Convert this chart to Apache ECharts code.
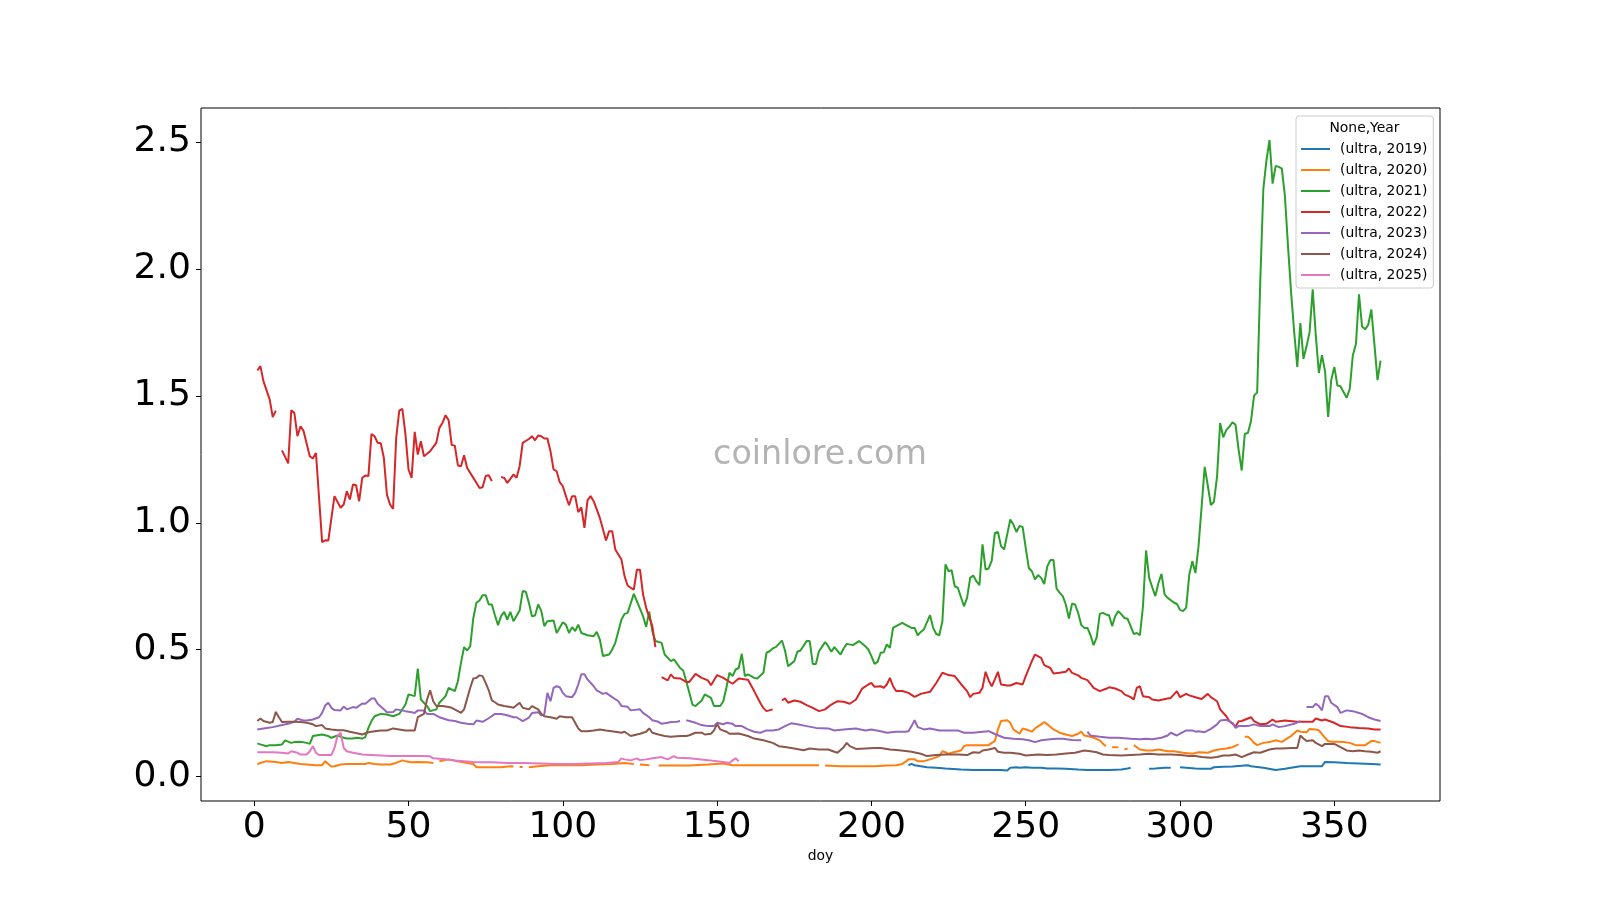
<!DOCTYPE html>
<html>
<head>
<meta charset="utf-8">
<script src="https://cdn.jsdelivr.net/npm/echarts@6/dist/echarts.min.js"></script>
<style>
html,body{margin:0;padding:0;background:#fff;}
#chart{width:1600px;height:900px;}
</style>
</head>
<body>
<div id="chart"></div>
<script>
// ---- data: [day of year, value]; null marks a gap in the line ----
const seriesNames = ['(ultra, 2019)','(ultra, 2020)','(ultra, 2021)','(ultra, 2022)','(ultra, 2023)','(ultra, 2024)','(ultra, 2025)'];
const xTicks = [0,50,100,150,200,250,300,350];
const yTicks = [0.0,0.5,1.0,1.5,2.0,2.5];

const ultra2019 = [[212,0.045],[213,0.050],[214,0.045],[216,0.041],[218,0.037],[221,0.035],[224,0.032],[229,0.028],[233,0.026],[238,0.026],[242,0.026],[244,0.024],[245,0.035],[247,0.037],[248,0.035],[250,0.037],[252,0.035],[255,0.035],[257,0.032],[260,0.032],[263,0.031],[267,0.028],[270,0.026],[273,0.026],[277,0.026],[281,0.028],[283,0.032],[284,0.035],null,[290,0.031],[292,0.032],[295,0.035],[297,0.035],null,[300,0.037],[302,0.035],[305,0.032],[307,0.031],[310,0.031],[311,0.037],[314,0.039],[317,0.040],[320,0.043],[322,0.045],[323,0.041],[327,0.035],[331,0.026],[334,0.031],[339,0.041],[343,0.041],[346,0.041],[347,0.058],[350,0.057],[354,0.054],[358,0.052],[362,0.050],[365,0.048]];

const ultra2020 = [[1,0.048],[2,0.054],[4,0.061],[7,0.058],[9,0.054],[11,0.058],[13,0.054],[15,0.050],[17,0.048],[20,0.045],[22,0.045],[23,0.061],[24,0.050],[25,0.040],[26,0.041],[28,0.048],[30,0.050],[33,0.050],[36,0.050],[37,0.054],[39,0.050],[41,0.048],[44,0.048],[46,0.054],[48,0.064],[49,0.061],[51,0.057],[53,0.058],[56,0.057],[58,0.054],null,[60,0.061],[63,0.068],[66,0.061],[69,0.054],[71,0.050],[72,0.037],[74,0.037],[77,0.037],[80,0.037],[83,0.041],[84,0.040],null,[86,0.038],[87,0.038],null,[89,0.037],[92,0.041],[96,0.045],[100,0.045],[106,0.045],[111,0.048],[116,0.050],[120,0.054],[123,0.050],null,[125,0.048],[128,0.045],null,[131,0.044],[136,0.044],[141,0.044],[147,0.048],[152,0.052],[155,0.045],[158,0.045],[163,0.045],[168,0.045],[174,0.045],[179,0.045],[183,0.045],null,[185,0.044],[190,0.041],[195,0.041],[201,0.041],[205,0.044],[208,0.045],[210,0.050],[211,0.058],[212,0.068],[214,0.068],[215,0.061],[217,0.061],[219,0.068],[220,0.072],[222,0.081],[223,0.100],[224,0.096],[225,0.090],[226,0.094],[229,0.103],[230,0.120],[231,0.124],[233,0.124],[235,0.124],[238,0.124],[239,0.133],[240,0.140],[241,0.186],[242,0.219],[244,0.222],[245,0.212],[246,0.186],[248,0.169],[249,0.190],[251,0.182],[252,0.177],[253,0.190],[255,0.206],[256,0.215],[257,0.206],[259,0.186],[261,0.173],[263,0.166],[265,0.160],[267,0.169],[268,0.177],[269,0.162],[271,0.157],[272,0.153],[274,0.143],[275,0.130],[276,0.120],null,[278,0.116],[280,0.116],null,[282,0.107],[283,0.111],null,[285,0.124],[286,0.116],[287,0.107],[289,0.103],[291,0.103],[293,0.107],[296,0.100],[298,0.100],[301,0.094],[304,0.090],[306,0.096],[309,0.094],[311,0.103],[313,0.108],[315,0.111],[317,0.116],[319,0.127],null,[321,0.157],[322,0.157],[323,0.147],[324,0.133],[325,0.124],[327,0.133],[329,0.136],[331,0.143],[333,0.137],[335,0.153],[336,0.160],[338,0.182],[339,0.177],[341,0.175],[342,0.188],[344,0.186],[345,0.182],[347,0.153],[348,0.140],[349,0.137],[351,0.137],[353,0.136],[355,0.133],[357,0.124],[358,0.124],[360,0.124],[362,0.140],[363,0.140],[365,0.133]];

const ultra2021 = [[1,0.131],[2,0.127],[4,0.120],[5,0.124],[7,0.124],[9,0.127],[10,0.143],[12,0.133],[13,0.136],[15,0.137],[17,0.133],[18,0.129],[19,0.160],[20,0.162],[22,0.166],[24,0.160],[25,0.153],[27,0.162],[29,0.153],[30,0.150],[32,0.150],[33,0.153],[35,0.150],[36,0.156],[37,0.192],[38,0.219],[39,0.238],[41,0.247],[43,0.245],[45,0.238],[47,0.247],[49,0.284],[50,0.324],[52,0.317],[53,0.426],[54,0.304],[56,0.278],[57,0.258],[59,0.265],[60,0.291],[62,0.317],[63,0.350],[65,0.337],[66,0.376],[67,0.448],[68,0.510],[69,0.497],[70,0.514],[71,0.625],[72,0.685],[73,0.694],[74,0.715],[75,0.715],[76,0.678],[77,0.678],[78,0.636],[79,0.597],[80,0.632],[81,0.649],[82,0.619],[83,0.649],[84,0.612],[86,0.654],[87,0.731],[88,0.728],[89,0.685],[90,0.632],[91,0.635],[92,0.678],[93,0.654],[94,0.593],[95,0.612],[97,0.615],[98,0.566],[100,0.608],[101,0.599],[102,0.566],[103,0.589],[104,0.573],[105,0.599],[106,0.566],[108,0.557],[110,0.553],[111,0.570],[112,0.540],[113,0.475],[115,0.481],[116,0.501],[117,0.527],[118,0.573],[119,0.619],[120,0.641],[121,0.645],[123,0.720],[124,0.691],[126,0.632],[127,0.590],[128,0.650],[129,0.573],[130,0.534],[132,0.527],[133,0.481],[135,0.455],[136,0.462],[138,0.428],[139,0.418],[140,0.376],[142,0.284],[143,0.278],[145,0.300],[146,0.324],[148,0.310],[149,0.278],[151,0.278],[152,0.297],[153,0.350],[154,0.409],[155,0.396],[156,0.422],[157,0.428],[158,0.484],[159,0.396],[160,0.403],[162,0.389],[163,0.387],[165,0.409],[166,0.488],[167,0.494],[168,0.505],[169,0.510],[171,0.536],[172,0.497],[173,0.435],[175,0.455],[176,0.492],[177,0.497],[179,0.534],[180,0.534],[181,0.444],[182,0.444],[183,0.494],[185,0.530],[186,0.514],[187,0.492],[188,0.510],[190,0.481],[191,0.505],[192,0.523],[194,0.518],[196,0.534],[198,0.514],[199,0.501],[200,0.475],[201,0.444],[202,0.452],[203,0.488],[204,0.490],[205,0.521],[206,0.507],[207,0.586],[208,0.593],[210,0.606],[211,0.599],[213,0.586],[214,0.586],[215,0.557],[216,0.570],[217,0.580],[219,0.636],[220,0.586],[221,0.562],[222,0.557],[223,0.612],[224,0.836],[225,0.809],[226,0.813],[227,0.750],[228,0.744],[230,0.671],[231,0.704],[232,0.783],[233,0.792],[234,0.770],[235,0.754],[236,0.915],[237,0.816],[238,0.820],[239,0.851],[240,0.960],[241,0.964],[242,0.908],[243,0.895],[244,0.954],[245,1.013],[246,0.993],[247,0.964],[248,0.987],[249,0.984],[250,0.901],[251,0.822],[252,0.809],[253,0.777],[254,0.794],[255,0.783],[256,0.759],[257,0.829],[258,0.853],[259,0.853],[260,0.741],[261,0.724],[262,0.711],[263,0.678],[264,0.623],[265,0.681],[266,0.678],[267,0.645],[268,0.597],[269,0.586],[270,0.586],[271,0.557],[272,0.518],[273,0.549],[274,0.641],[275,0.645],[276,0.639],[277,0.636],[278,0.593],[279,0.632],[280,0.652],[281,0.639],[282,0.625],[283,0.622],[284,0.593],[285,0.562],[286,0.566],[287,0.557],[288,0.671],[289,0.891],[290,0.783],[291,0.746],[292,0.711],[293,0.763],[294,0.799],[295,0.718],[296,0.704],[298,0.686],[299,0.680],[300,0.657],[301,0.652],[302,0.666],[303,0.795],[304,0.849],[305,0.802],[306,0.908],[307,1.063],[308,1.220],[309,1.147],[310,1.070],[311,1.083],[312,1.182],[313,1.393],[314,1.337],[315,1.365],[316,1.379],[317,1.396],[318,1.386],[319,1.287],[320,1.206],[321,1.351],[322,1.354],[323,1.400],[324,1.501],[325,1.513],[326,1.949],[327,2.314],[328,2.427],[329,2.508],[330,2.336],[331,2.406],[332,2.402],[333,2.395],[334,2.286],[335,2.089],[336,1.907],[337,1.752],[338,1.614],[339,1.787],[340,1.646],[341,1.695],[342,1.752],[343,1.920],[344,1.738],[345,1.590],[346,1.660],[347,1.597],[348,1.417],[349,1.562],[350,1.614],[351,1.541],[352,1.538],[354,1.492],[355,1.527],[356,1.660],[357,1.703],[358,1.900],[359,1.773],[360,1.762],[361,1.780],[362,1.840],[363,1.703],[364,1.562],[365,1.639]];

const ultra2022 = [[1,1.600],[2,1.617],[3,1.557],[5,1.486],[6,1.416],[7,1.442],null,[9,1.285],[11,1.234],[12,1.443],[13,1.433],[14,1.341],[15,1.380],[16,1.361],[18,1.262],[19,1.253],[20,1.275],[22,0.924],[23,0.931],[24,0.930],[26,1.105],[28,1.059],[29,1.072],[30,1.124],[31,1.092],[32,1.151],[33,1.148],[34,1.085],[35,1.177],[36,1.186],[37,1.184],[38,1.350],[39,1.341],[40,1.315],[41,1.313],[42,1.256],[43,1.111],[44,1.072],[45,1.055],[46,1.334],[47,1.442],[48,1.449],[49,1.348],[50,1.210],[51,1.177],[52,1.358],[53,1.269],[54,1.321],[55,1.262],[57,1.282],[59,1.315],[60,1.374],[61,1.393],[62,1.424],[63,1.404],[64,1.306],[65,1.304],[66,1.226],[67,1.223],[68,1.266],[69,1.216],[71,1.177],[73,1.137],[74,1.140],[75,1.184],[76,1.187],[77,1.164],null,[80,1.180],[81,1.177],[82,1.157],[83,1.173],[84,1.190],[85,1.177],[86,1.223],[87,1.315],[89,1.330],[90,1.341],[91,1.325],[92,1.344],[93,1.341],[94,1.332],[95,1.332],[96,1.282],[97,1.210],[98,1.203],[99,1.160],[100,1.144],[101,1.105],[102,1.069],[103,1.105],[104,1.105],[105,1.042],[106,1.061],[107,0.980],[108,1.088],[109,1.105],[110,1.085],[112,1.019],[114,0.930],[115,0.967],[116,0.967],[117,0.895],[119,0.855],[120,0.790],[121,0.753],[122,0.744],[123,0.737],[124,0.815],[125,0.815],[126,0.718],[127,0.665],[129,0.593],[130,0.510],null,[132,0.392],[134,0.379],[135,0.403],[136,0.389],[138,0.387],[140,0.373],[141,0.373],[143,0.405],[145,0.389],[147,0.379],[148,0.360],[150,0.400],[152,0.389],[155,0.366],[157,0.387],[160,0.382],[162,0.337],[164,0.290],[165,0.270],[166,0.258],[168,0.265],null,[171,0.300],[172,0.308],[173,0.291],[175,0.300],[177,0.295],[179,0.282],[181,0.271],[183,0.258],[185,0.265],[187,0.284],[189,0.297],[191,0.295],[193,0.287],[195,0.304],[197,0.347],[199,0.363],[200,0.369],[201,0.354],[203,0.356],[204,0.350],[205,0.363],[206,0.389],[207,0.356],[208,0.337],[210,0.337],[212,0.330],[214,0.314],[216,0.326],[219,0.334],[221,0.369],[223,0.409],[225,0.400],[227,0.396],[229,0.365],[231,0.337],[232,0.313],[233,0.326],[235,0.330],[236,0.350],[237,0.413],[238,0.379],[239,0.356],[240,0.383],[241,0.413],[242,0.363],[244,0.359],[245,0.359],[247,0.369],[249,0.363],[250,0.396],[252,0.455],[253,0.481],[255,0.468],[256,0.439],[258,0.428],[259,0.406],[261,0.409],[263,0.413],[264,0.426],[265,0.409],[267,0.399],[268,0.389],[270,0.380],[271,0.365],[272,0.350],[274,0.337],[276,0.346],[277,0.352],[279,0.347],[281,0.337],[282,0.324],[284,0.313],[285,0.304],[286,0.350],[287,0.356],[288,0.317],[290,0.313],[291,0.304],[293,0.300],[296,0.308],[297,0.310],[299,0.337],[300,0.313],[302,0.326],[303,0.320],[305,0.313],[307,0.306],[309,0.326],[310,0.313],[312,0.297],[313,0.265],[315,0.238],[316,0.219],[318,0.197],[319,0.218],[320,0.219],[322,0.229],[323,0.234],[324,0.219],[326,0.206],[328,0.208],[330,0.225],[331,0.216],[334,0.221],[338,0.216],[341,0.216],[343,0.216],[344,0.229],[346,0.221],[347,0.225],[350,0.212],[352,0.199],[355,0.195],[358,0.192],[361,0.190],[363,0.186],[365,0.186]];

const ultra2023 = [[1,0.186],[3,0.190],[6,0.195],[9,0.203],[11,0.208],[13,0.216],[14,0.228],[16,0.221],[17,0.221],[19,0.225],[21,0.234],[22,0.251],[23,0.280],[24,0.291],[25,0.271],[26,0.262],[28,0.261],[29,0.276],[30,0.265],[32,0.274],[33,0.271],[35,0.288],[36,0.287],[38,0.308],[39,0.308],[40,0.287],[42,0.265],[43,0.254],[45,0.255],[46,0.265],[49,0.258],[51,0.254],[52,0.251],[53,0.261],[55,0.261],[56,0.247],[58,0.247],[60,0.234],[63,0.222],[65,0.219],[67,0.212],[69,0.208],[71,0.206],[72,0.221],[74,0.216],[76,0.230],[78,0.247],[80,0.247],[82,0.242],[84,0.234],[85,0.234],[87,0.219],[89,0.232],[90,0.251],[92,0.254],[93,0.242],[94,0.245],[95,0.330],[96,0.297],[97,0.350],[98,0.356],[99,0.352],[100,0.330],[101,0.317],[103,0.313],[104,0.330],[105,0.363],[106,0.403],[107,0.403],[108,0.383],[110,0.356],[111,0.340],[113,0.326],[114,0.330],[116,0.313],[118,0.297],[119,0.278],[121,0.275],[122,0.261],[125,0.265],[126,0.251],[128,0.234],[129,0.222],[131,0.216],[132,0.208],[134,0.212],[135,0.215],[137,0.216],[138,0.219],null,[140,0.222],[141,0.219],[143,0.212],[145,0.203],[147,0.199],[149,0.199],[150,0.212],[152,0.206],[153,0.212],[155,0.208],[156,0.199],[158,0.199],[160,0.186],[162,0.177],[164,0.173],[166,0.182],[168,0.182],[170,0.186],[172,0.199],[174,0.210],[176,0.206],[179,0.199],[182,0.192],[186,0.190],[188,0.182],[191,0.186],[195,0.190],[198,0.182],[200,0.186],[203,0.179],[205,0.173],[208,0.177],[211,0.177],[212,0.179],[213,0.199],[214,0.222],[215,0.195],[217,0.186],[219,0.190],[222,0.182],[225,0.182],[228,0.182],[230,0.173],[233,0.173],[236,0.177],[238,0.179],[240,0.168],[241,0.163],[243,0.153],[246,0.149],[249,0.147],[251,0.143],[253,0.136],[255,0.143],[258,0.147],[260,0.149],[262,0.149],[265,0.144],[268,0.143],null,[270,0.177],[271,0.162],[274,0.157],[277,0.153],[280,0.153],[284,0.149],[287,0.147],[289,0.149],[291,0.147],[294,0.153],[296,0.162],[297,0.173],[299,0.162],[300,0.169],[302,0.182],[304,0.182],[305,0.177],[306,0.179],[308,0.175],[310,0.188],[312,0.206],[313,0.221],[315,0.224],[317,0.212],[318,0.192],[319,0.199],[322,0.199],[324,0.206],[326,0.199],[329,0.199],[330,0.206],[332,0.195],[334,0.199],[337,0.208],[339,0.219],null,[341,0.274],[343,0.274],[344,0.287],[345,0.278],[346,0.261],[347,0.317],[348,0.317],[349,0.291],[351,0.274],[352,0.251],[354,0.261],[356,0.258],[358,0.251],[359,0.247],[361,0.234],[363,0.225],[365,0.219]];

const ultra2024 = [[1,0.219],[2,0.229],[3,0.219],[5,0.212],[6,0.215],[7,0.255],[8,0.234],[9,0.215],[11,0.216],[13,0.216],[15,0.215],[17,0.212],[19,0.206],[20,0.199],[22,0.203],[23,0.190],[25,0.186],[27,0.183],[29,0.183],[31,0.177],[34,0.169],[35,0.166],[37,0.175],[39,0.179],[41,0.182],[43,0.182],[45,0.190],[47,0.186],[49,0.182],[52,0.182],[53,0.234],[55,0.247],[56,0.304],[57,0.340],[58,0.297],[59,0.278],[61,0.278],[63,0.274],[64,0.271],[66,0.258],[67,0.251],[68,0.265],[70,0.350],[71,0.387],[72,0.389],[73,0.399],[74,0.396],[75,0.369],[76,0.340],[77,0.300],[78,0.293],[79,0.284],[81,0.278],[83,0.274],[84,0.271],[86,0.291],[87,0.271],[89,0.265],[90,0.278],[92,0.265],[93,0.247],[94,0.238],[96,0.234],[98,0.228],[99,0.238],[101,0.234],[103,0.234],[104,0.212],[105,0.190],[106,0.179],[108,0.179],[110,0.182],[112,0.186],[114,0.182],[117,0.177],[119,0.173],[120,0.177],[122,0.160],[124,0.166],[125,0.169],[127,0.177],[128,0.190],[129,0.173],[131,0.166],[133,0.160],[135,0.157],[138,0.160],[140,0.160],[141,0.163],[143,0.173],[145,0.173],[146,0.166],[148,0.169],[149,0.182],[150,0.208],[151,0.186],[153,0.177],[154,0.169],[157,0.170],[160,0.160],[162,0.150],[165,0.143],[168,0.133],[170,0.120],[172,0.117],[175,0.111],[178,0.104],[180,0.111],[183,0.107],[186,0.107],[188,0.098],[189,0.094],[191,0.116],[192,0.133],[193,0.120],[195,0.109],[198,0.111],[201,0.113],[203,0.113],[206,0.107],[209,0.104],[213,0.098],[216,0.090],[218,0.081],[221,0.085],[224,0.087],[228,0.087],[231,0.085],[233,0.096],[235,0.094],[236,0.103],[238,0.107],[240,0.113],[241,0.098],[243,0.094],[245,0.094],[248,0.090],[250,0.083],[254,0.087],[257,0.085],[260,0.087],[263,0.091],[266,0.094],[269,0.103],[271,0.100],[273,0.096],[275,0.087],[277,0.085],[281,0.083],[284,0.085],[287,0.087],[290,0.090],[293,0.087],[297,0.087],[300,0.085],[303,0.081],[305,0.081],[307,0.077],[310,0.074],[312,0.077],[314,0.083],[316,0.083],[318,0.087],[320,0.077],[322,0.087],[324,0.096],[326,0.094],[329,0.107],[331,0.111],[333,0.111],[336,0.113],[338,0.113],[339,0.162],[340,0.150],[341,0.140],[343,0.143],[344,0.133],[346,0.120],[347,0.129],[350,0.129],[352,0.116],[354,0.103],[356,0.100],[358,0.103],[360,0.100],[362,0.098],[364,0.094],[365,0.100]];

const ultra2025 = [[1,0.096],[3,0.096],[6,0.096],[9,0.094],[11,0.091],[12,0.100],[14,0.094],[15,0.087],[17,0.087],[18,0.100],[19,0.120],[20,0.094],[21,0.085],[23,0.085],[25,0.085],[26,0.113],[27,0.160],[28,0.173],[29,0.113],[30,0.100],[32,0.094],[35,0.087],[38,0.085],[41,0.083],[44,0.081],[48,0.081],[51,0.081],[54,0.081],[57,0.080],[58,0.072],[62,0.068],[65,0.064],[68,0.061],[71,0.058],[74,0.057],[77,0.057],[82,0.054],[87,0.054],[93,0.052],[98,0.050],[104,0.050],[109,0.052],[114,0.054],[118,0.058],[119,0.072],[120,0.068],[122,0.064],[124,0.072],[125,0.065],[127,0.068],[129,0.072],[132,0.077],[133,0.072],[134,0.068],[136,0.081],[137,0.074],[141,0.072],[147,0.065],[152,0.058],[154,0.054],[155,0.064],[156,0.072],[157,0.061]];

const allData = [ultra2019, ultra2020, ultra2021, ultra2022, ultra2023, ultra2024, ultra2025];
const colors = ['#1f77b4','#ff7f0e','#2ca02c','#d62728','#9467bd','#8c564b','#e377c2'];

// gap markers -> points with empty value (line breaks there)
function withGaps(arr){
  const out = [];
  for (let i = 0; i < arr.length; i++){
    if (arr[i] === null){
      const prev = arr[i-1], next = arr[i+1];
      out.push([(prev[0] + next[0]) / 2, null]);
    } else out.push(arr[i]);
  }
  return out;
}

const FONT = 'DejaVu Sans';
const chart = echarts.init(document.getElementById('chart'), null, {renderer:'canvas'});

const series = seriesNames.map((name, i) => ({
  name: name,
  type: 'line',
  data: withGaps(allData[i]),
  showSymbol: false,
  symbol: 'none',
  connectNulls: false,
  lineStyle: {width: 2, color: colors[i]},
  itemStyle: {color: colors[i]},
  emphasis: {disabled: true},
  z: 2 + i,
  animation: false
}));

chart.setOption({
  animation: false,
  backgroundColor: '#ffffff',
  grid: {left: 201, top: 108, right: 160, bottom: 99, show: true, borderColor: '#000', borderWidth: 1, backgroundColor: 'transparent'},
  xAxis: {
    type: 'value', min: -17.25, max: 384.25, minInterval: 50, maxInterval: 50, splitNumber: 8,
    axisLine: {show: false, onZero: false},
    axisTick: {show: true, length: 5, lineStyle: {color: '#000', width: 1}},
    axisLabel: {show: true, margin: 9, fontFamily: FONT, fontSize: 36.1, color: '#000', showMinLabel: false, showMaxLabel: false,
      formatter: v => xTicks.includes(v) ? String(v) : ''},
    splitLine: {show: false}
  },
  yAxis: {
    type: 'value', min: -0.096, max: 2.634, minInterval: 0.5, maxInterval: 0.5, splitNumber: 5,
    axisLine: {show: false, onZero: false},
    axisTick: {show: true, length: 5, lineStyle: {color: '#000', width: 1}},
    axisLabel: {show: true, margin: 10, fontFamily: FONT, fontSize: 36.1, color: '#000', showMinLabel: false, showMaxLabel: false,
      formatter: v => yTicks.some(t => Math.abs(t - v) < 1e-9) ? v.toFixed(1) : ''},
    splitLine: {show: false}
  },
  legend: {
    show: true, orient: 'vertical', left: 1296, top: 116,
    padding: [26, 6, 6, 5], itemGap: 7, itemWidth: 29, itemHeight: 2, icon: 'rect',
    backgroundColor: 'rgba(255,255,255,0.8)', borderColor: '#cccccc', borderWidth: 1, borderRadius: 3,
    textStyle: {fontFamily: FONT, fontSize: 13.9, color: '#000', padding: [0,0,0,5]},
    data: seriesNames
  },
  graphic: [
    {type: 'text', x: 820, y: 455, z: 1, silent: true,
     style: {text: 'coinlore.com', fontFamily: FONT, fontSize: 33.3, fill: 'rgba(128,128,128,0.6)', align: 'center', verticalAlign: 'middle'}},
    {type: 'text', x: 1364.5, y: 128.5, z: 100, silent: true,
     style: {text: 'None,Year', fontFamily: FONT, fontSize: 13.9, fill: '#000', align: 'center', verticalAlign: 'middle'}},
    {type: 'text', x: 820.5, y: 856.5, z: 100, silent: true,
     style: {text: 'doy', fontFamily: FONT, fontSize: 13.9, fill: '#000', align: 'center', verticalAlign: 'middle'}}
  ],
  series: series
});
</script>
</body>
</html>
